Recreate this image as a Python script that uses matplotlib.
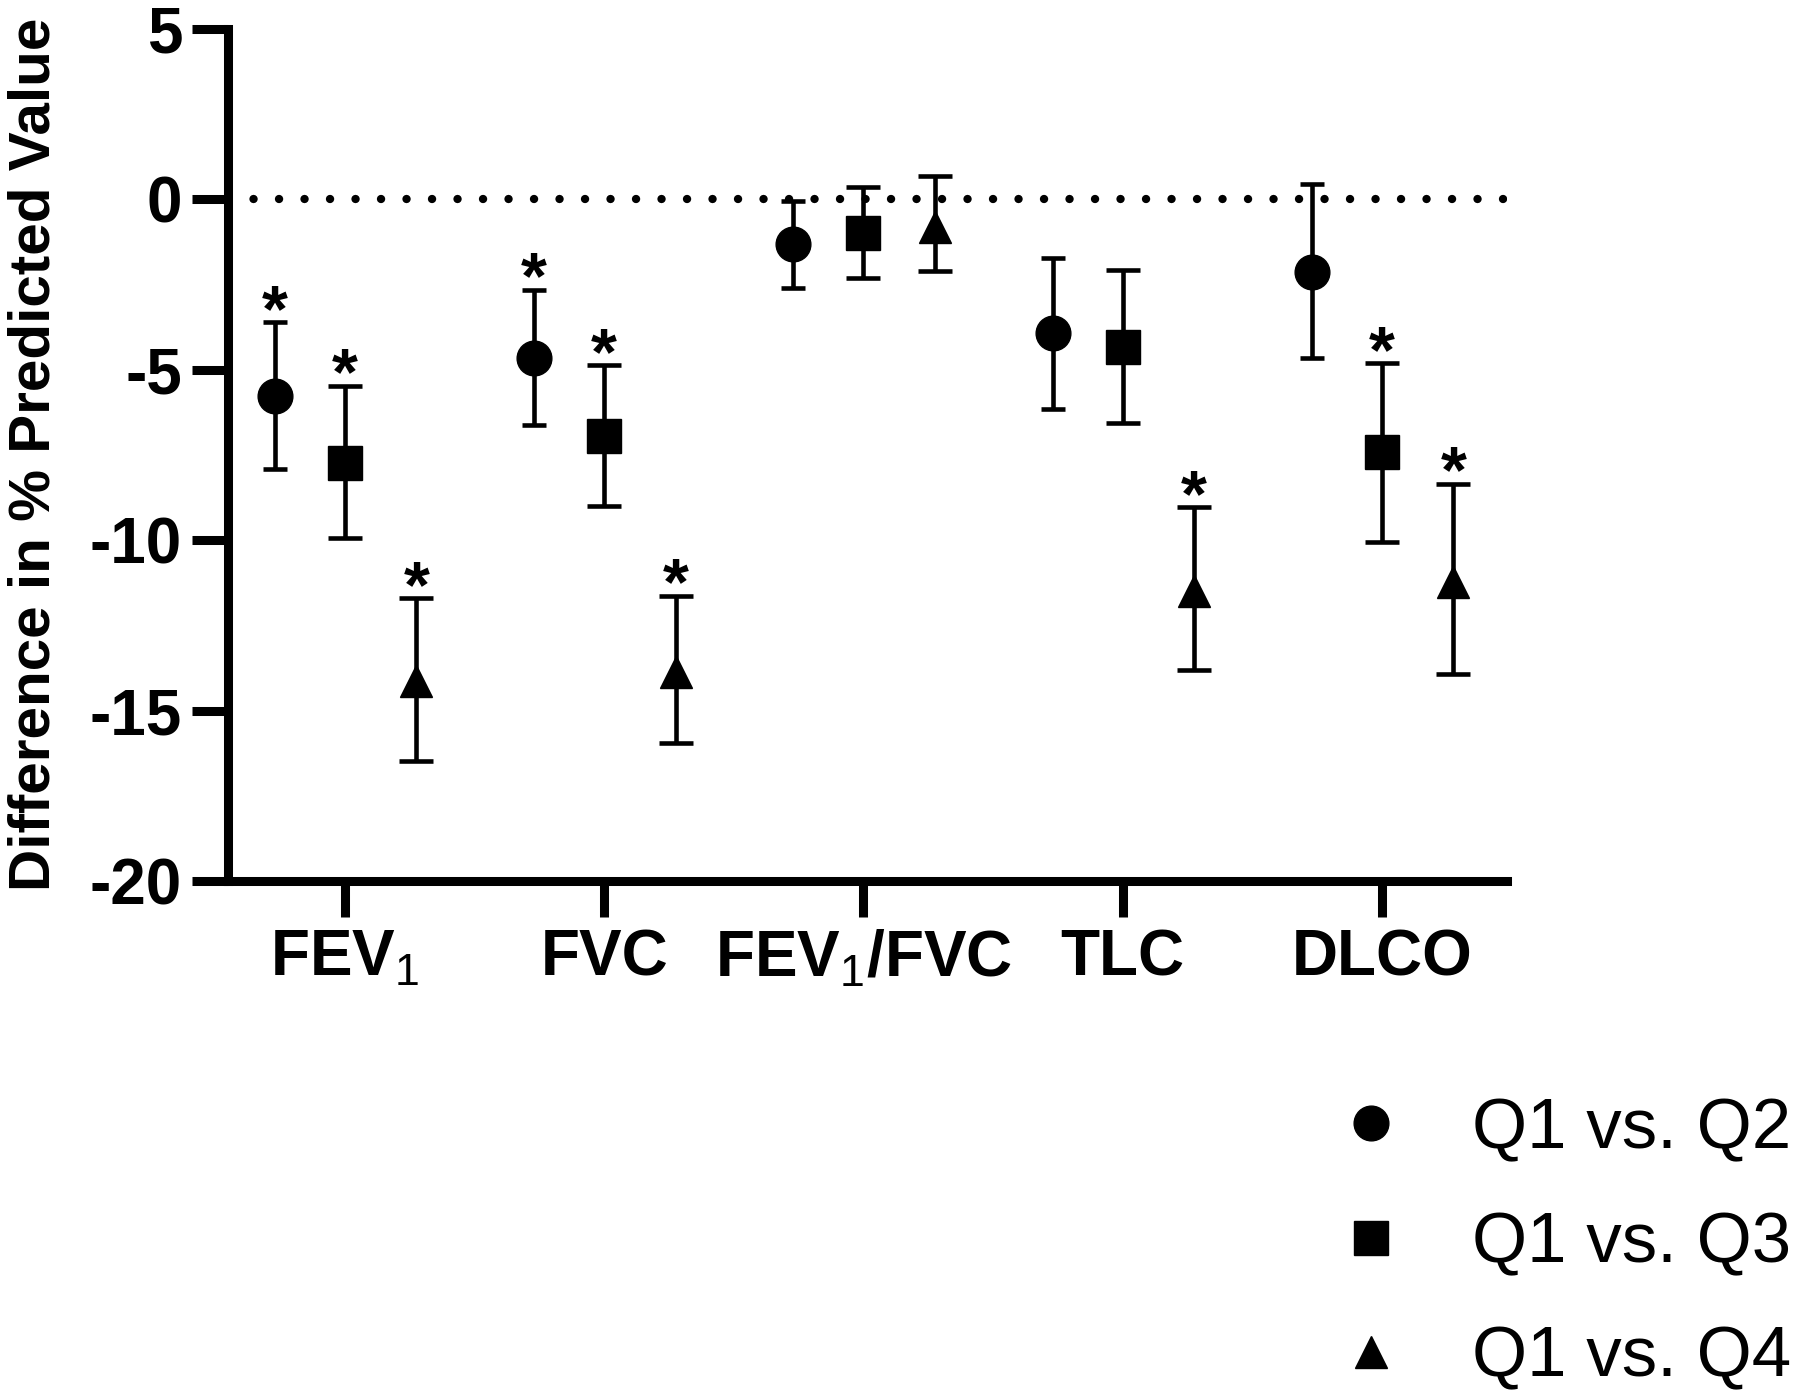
import matplotlib
matplotlib.use("Agg")
import matplotlib.pyplot as plt
from matplotlib.lines import Line2D

plt.rcParams['font.family'] = ['Liberation Sans', 'DejaVu Sans']
plt.rcParams['mathtext.fontset'] = 'custom'
plt.rcParams['mathtext.rm'] = 'Liberation Sans'
plt.rcParams['mathtext.bf'] = 'Liberation Sans:bold'

# data: mean difference and 95% CI (low, high) per parameter
params = ['FEV$_1$', 'FVC', 'FEV$_1$/FVC', 'TLC', 'DLCO']
groups = ['Q1 vs. Q2', 'Q1 vs. Q3', 'Q1 vs. Q4']

q2_mean = [-5.77, -4.65, -1.31, -3.94, -2.14]
q2_low = [-7.91, -6.64, -2.61, -6.15, -4.67]
q2_high = [-3.62, -2.67, -0.05, -1.74, 0.45]

q3_mean = [-7.73, -6.94, -1.00, -4.33, -7.43]
q3_low = [-9.94, -8.99, -2.31, -6.58, -10.07]
q3_high = [-5.49, -4.88, 0.34, -2.08, -4.82]

q4_mean = [-14.14, -13.86, -0.81, -11.50, -11.22]
q4_low = [-16.47, -15.96, -2.12, -13.80, -13.93]
q4_high = [-11.71, -11.64, 0.67, -9.04, -8.36]

# significance flags (*)
q2_sig = [True, True, False, False, False]
q3_sig = [True, True, False, False, True]
q4_sig = [True, True, False, True, True]

series = [
    (q2_mean, q2_low, q2_high, q2_sig, 'o', 25, 8.3, -0.27),
    (q3_mean, q3_low, q3_high, q3_sig, 's', 25, 12, 0.0),
    (q4_mean, q4_low, q4_high, q4_sig, '^', 23, 12, 0.275),
]

fig = plt.figure(figsize=(18, 13.92), dpi=100)
ax = fig.add_axes([0.1267, 0.3671, 0.8372 - 0.1267, 0.9795 - 0.3671])

ax.axhline(0, color='black', lw=6, linestyle=(0, (0.01, 3.05)),
           dash_capstyle='round', zorder=1)

for mean, low, high, sig, marker, ms, cap, off in series:
    xs = [i + off for i in range(len(params))]
    yerr = [[m - lo for m, lo in zip(mean, low)], [hi - m for m, hi in zip(mean, high)]]
    ax.errorbar(xs, mean, yerr=yerr, fmt=marker, color='black', ms=ms,
                elinewidth=3.3, capsize=cap, capthick=3.3, zorder=3)
    for x, hi, s in zip(xs, high, sig):
        if s:
            ax.annotate('*', (x, hi), xytext=(0, -6), textcoords='offset points',
                        ha='center', va='baseline', fontsize=48, fontweight='bold')

ax.set_xlim(-0.451, 4.482)
ax.set_ylim(-20, 5)
ax.set_yticks([5, 0, -5, -10, -15, -20])
ax.set_yticklabels(['5', '0', '-5', '-10', '-15', '-20'])
ax.set_xticks(range(len(params)))
ax.set_xticklabels(params)

for side in ['top', 'right']:
    ax.spines[side].set_visible(False)
for side in ['left', 'bottom']:
    ax.spines[side].set_linewidth(6.5)
    ax.spines[side].set_capstyle('projecting')

ax.tick_params(axis='both', length=26, width=6.5, labelsize=46)
ax.tick_params(axis='y', pad=7)
ax.tick_params(axis='x', pad=8)
for lbl in ax.get_xticklabels() + ax.get_yticklabels():
    lbl.set_fontweight('bold')

ax.set_ylabel('Difference in % Predicted Value', fontsize=42, fontweight='bold')
ax.yaxis.set_label_coords(-0.13, 0.5)

handles = [Line2D([], [], ls='none', marker=m, color='black', ms=s)
           for _, _, _, _, m, s, _, _ in series]
fig.legend(handles, groups, loc='center left', bbox_to_anchor=(0.742, 0.106),
           frameon=False, fontsize=51, handlelength=1, handletextpad=0.93,
           labelspacing=0.68, borderpad=0, borderaxespad=0)

fig.savefig('out.png', dpi=100)
